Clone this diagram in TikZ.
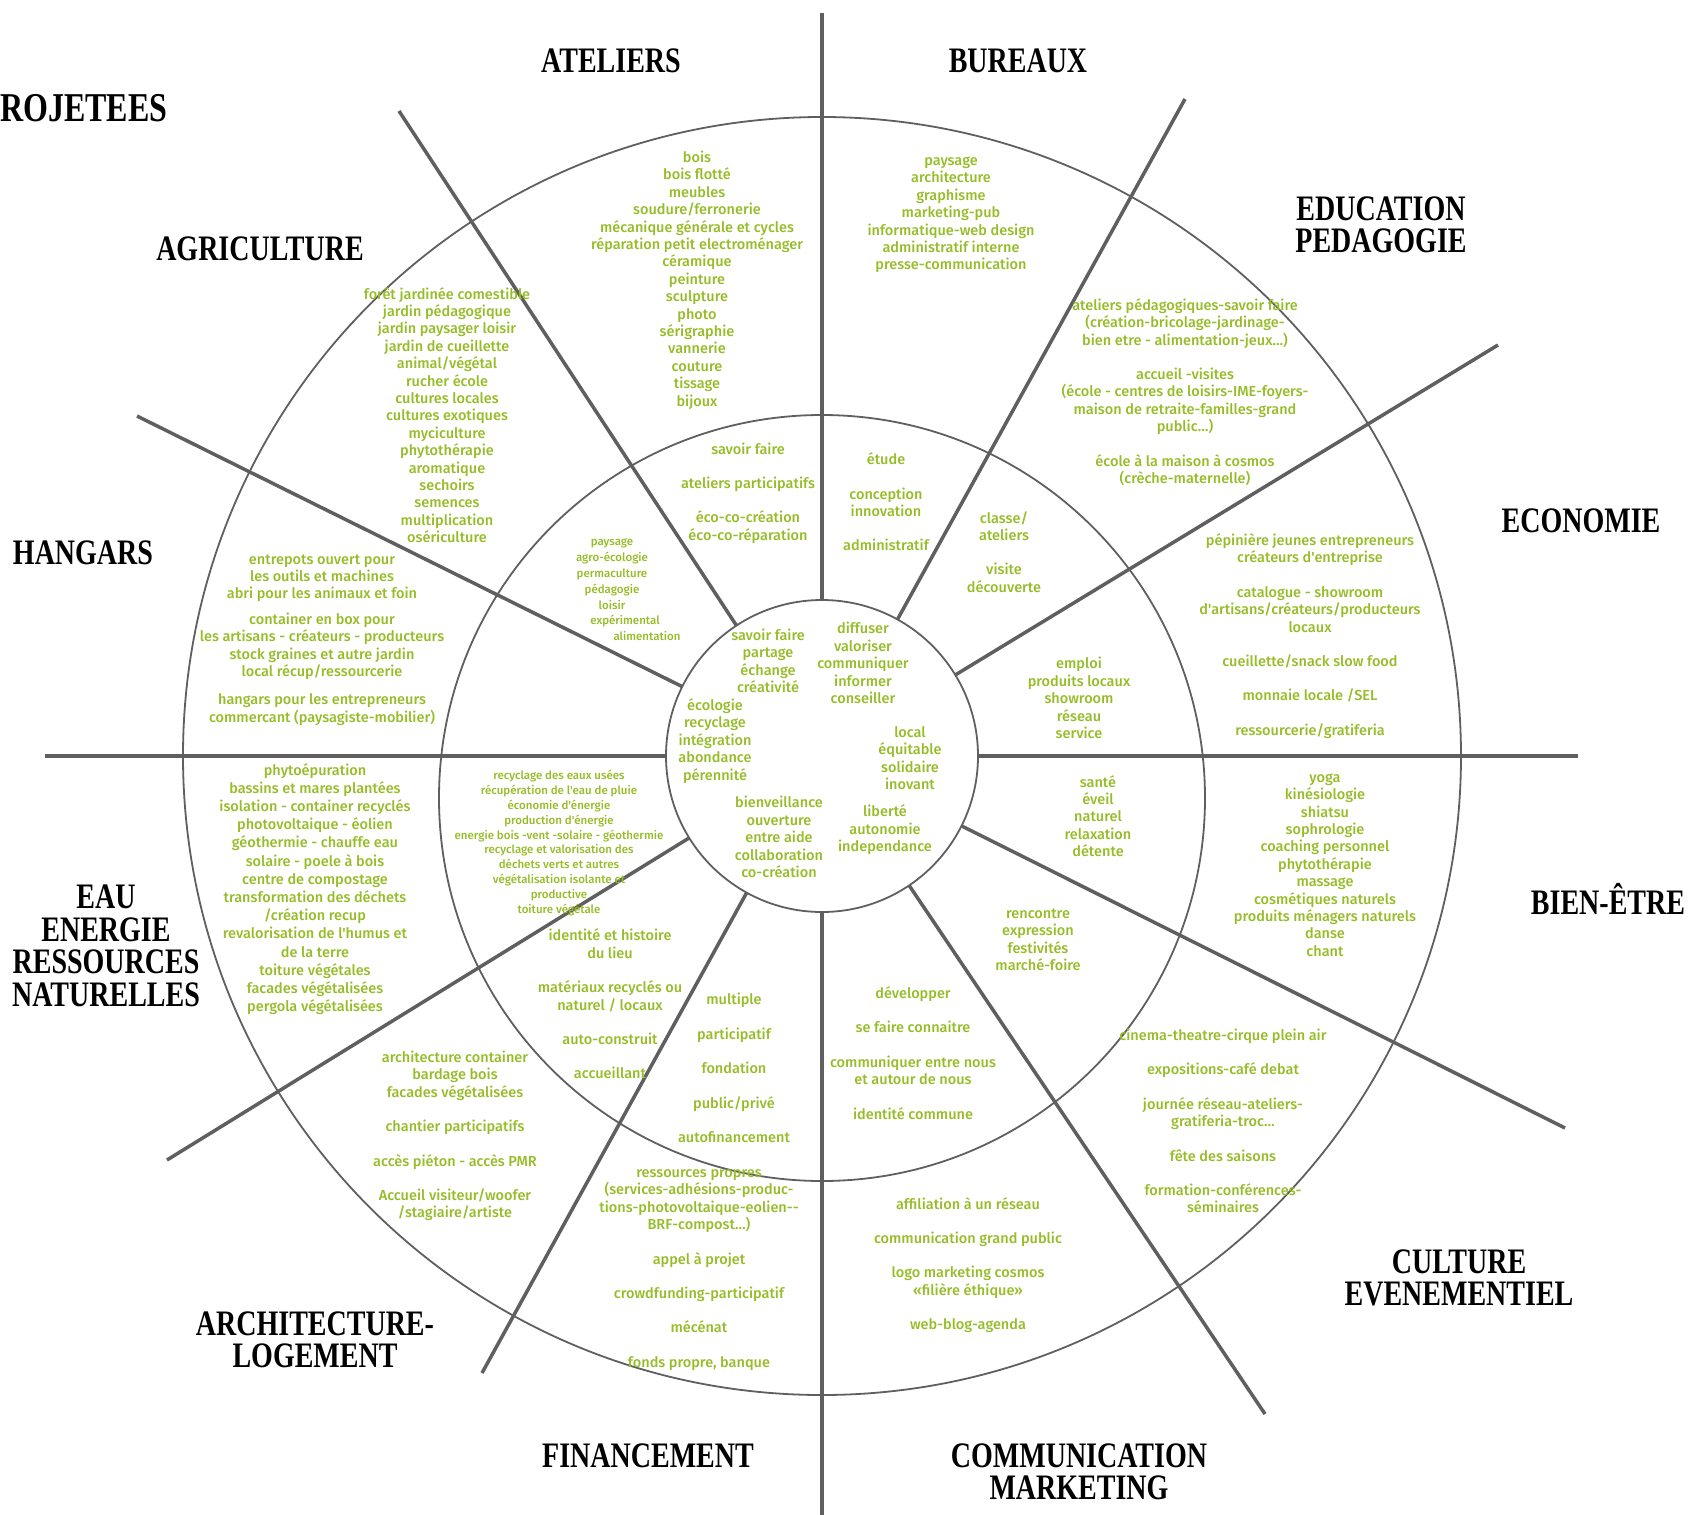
\documentclass[tikz,border=0pt]{standalone}
\usepackage{fontspec}
\usepackage{graphicx}
\setmainfont{Liberation Serif}
\newfontfamily\leaffont{Fira Sans Medium}
\usetikzlibrary{calc}

\definecolor{leaf}{RGB}{150,188,40}
\definecolor{rim}{RGB}{95,95,95}

\newcommand\tallcaps[1]{\scalebox{1}[1.28]{#1}}

\tikzset{
  headtext/.style={font=\fontsize{28}{32.5}\selectfont\bfseries, align=center, inner sep=0pt},
  leaftext/.style={font=\leaffont\fontsize{14.5}{17.4}\selectfont, text=leaf, align=center, inner sep=0pt},
  smalltext/.style={leaftext, font=\leaffont\fontsize{11.5}{14.8}\selectfont},
  spoke/.style={draw=rim, line width=3.5pt},
  ring/.style={draw=rim, line width=1.8pt}
}

\begin{document}
\begin{tikzpicture}[x=1pt,y=-1pt]
\useasboundingbox (0,0) rectangle (1692,1515);

\coordinate (c) at (822,756);
\coordinate (mc) at (822,798);

% circles
\draw[ring] (c) circle (639pt);
\draw[ring] (mc) circle (383pt);
\draw[ring] (c) circle (156pt);

% spokes
\coordinate (n) at (822,13);
\coordinate (s) at (822,1515);
\coordinate (w) at (45,756);
\coordinate (e) at (1578,756);
\coordinate (nw1) at (399,111);
\coordinate (se1) at (1265,1414);
\coordinate (ne1) at (1185,99);
\coordinate (sw1) at (482,1373);
\coordinate (ne2) at (1498,345);
\coordinate (sw2) at (167,1160);
\coordinate (nw2) at (137,416);
\coordinate (se2) at (1565,1128);

\draw[spoke] ($(c)!156pt!(n)$) -- (n);
\draw[spoke] ($(c)!156pt!(s)$) -- (s);
\draw[spoke] ($(c)!156pt!(w)$) -- (w);
\draw[spoke] ($(c)!156pt!(e)$) -- (e);
\draw[spoke] ($(c)!156pt!(nw1)$) -- (nw1);
\draw[spoke] ($(c)!156pt!(se1)$) -- (se1);
\draw[spoke] ($(c)!156pt!(ne1)$) -- (ne1);
\draw[spoke] ($(c)!156pt!(sw1)$) -- (sw1);
\draw[spoke] ($(c)!156pt!(ne2)$) -- (ne2);
\draw[spoke] ($(c)!156pt!(sw2)$) -- (sw2);
\draw[spoke] ($(c)!156pt!(nw2)$) -- (nw2);
\draw[spoke] ($(c)!156pt!(se2)$) -- (se2);

\begin{scope}[every node/.style={headtext}]
  \node[anchor=west, font=\fontsize{32}{36}\selectfont\bfseries] (proj) at (0,108) {\tallcaps{ROJETEES}};
  \node (atl)   at (611,61)    {\tallcaps{ATELIERS}};
  \node (bur)   at (1018,61)   {\tallcaps{BUREAUX}};
  \node (edu)   at (1381,225)  {\tallcaps{EDUCATION}\\\tallcaps{PEDAGOGIE}};
  \node (eco)   at (1581,521)  {\tallcaps{ECONOMIE}};
  \node (bien)  at (1608,899)  {\tallcaps{BIEN-ÊTRE}};
  \node (cult)  at (1459,1278) {\tallcaps{CULTURE}\\\tallcaps{EVENEMENTIEL}};
  \node (comm)  at (1079,1472) {\tallcaps{COMMUNICATION}\\\tallcaps{MARKETING}};
  \node (fin)   at (648,1456)  {\tallcaps{FINANCEMENT}};
  \node (archi) at (315,1340)  {\tallcaps{ARCHITECTURE-}\\\tallcaps{LOGEMENT}};
  \node (eau)   at (106,946)   {\tallcaps{EAU}\\\tallcaps{ENERGIE}\\\tallcaps{RESSOURCES}\\\tallcaps{NATURELLES}};
  \node (hang)  at (83,553)    {\tallcaps{HANGARS}};
  \node (agri)  at (260,249)   {\tallcaps{AGRICULTURE}};
\end{scope}

% outer ring
\node[leaftext] (atlout) at (697,280) {bois\\bois flotté\\meubles\\soudure/ferronerie\\mécanique générale et cycles\\réparation petit electroménager\\céramique\\peinture\\sculpture\\photo\\sérigraphie\\vannerie\\couture\\tissage\\bijoux};
\node[leaftext] (burout) at (951,215) {paysage\\architecture\\graphisme\\marketing-pub\\informatique-web design\\administratif interne\\presse-communication};
\node[leaftext] (eduout) at (1185,392) {ateliers pédagogiques-savoir faire\\(création-bricolage-jardinage-\\bien etre - alimentation-jeux\ldots)\\[17pt]accueil -visites\\(école - centres de loisirs-IME-foyers-\\maison de retraite-familles-grand\\public\ldots)\\[17pt]école à la maison à cosmos\\(crèche-maternelle)};
\node[leaftext] (ecoout) at (1310,636) {pépinière jeunes entrepreneurs\\créateurs d'entreprise\\[17pt]catalogue - showroom\\d'artisans/créateurs/producteurs\\locaux\\[17pt]cueillette/snack slow food\\[17pt]monnaie locale /SEL\\[17pt]ressourcerie/gratiferia};
\node[leaftext] (bienout) at (1325,865) {yoga\\kinésiologie\\shiatsu\\sophrologie\\coaching personnel\\phytothérapie\\massage\\cosmétiques naturels\\produits ménagers naturels\\danse\\chant};
\node[leaftext] (cultout) at (1223,1121) {cinema-theatre-cirque plein air\\[17pt]expositions-café debat\\[17pt]journée réseau-ateliers-\\gratiferia-troc\ldots\\[17pt]fête des saisons\\[17pt]formation-conférences-\\séminaires};
\node[leaftext] (commout) at (968,1265) {affiliation à un réseau\\[17pt]communication grand public\\[17pt]logo marketing cosmos\\«filière éthique»\\[17pt]web-blog-agenda};
\node[leaftext] (finout) at (699,1270) {ressources propres\\(services-adhésions-produc-\\tions-photovoltaique-eolien{-}{-}\\BRF-compost\ldots)\\[17pt]appel à projet\\[17pt]crowdfunding-participatif\\[17pt]mécénat\\[17pt]fonds propre, banque};
\node[leaftext] (archiout) at (455,1136) {architecture container\\bardage bois\\facades végétalisées\\[17pt]chantier participatifs\\[17pt]accès piéton - accès PMR\\[17pt]Accueil visiteur/woofer\\/stagiaire/artiste};
\node[leaftext, font=\leaffont\fontsize{14.5}{18.2}\selectfont] (eauout) at (315,889) {phytoépuration\\bassins et mares plantées\\isolation - container recyclés\\photovoltaique - éolien\\géothermie - chauffe eau\\solaire - poele à bois\\centre de compostage\\transformation des déchets\\/création recup\\revalorisation de l'humus et\\de la terre\\toiture végétales\\facades végétalisées\\pergola végétalisées};
\node[leaftext] (hangout) at (322,640) {entrepots ouvert pour\\les outils et machines\\abri pour les animaux et foin\\[8pt]container en box pour\\les artisans - créateurs - producteurs\\stock graines et autre jardin\\local récup/ressourcerie\\[11pt]hangars pour les entrepreneurs\\commercant (paysagiste-mobilier)};
\node[leaftext] (agriout) at (447,415) {forêt jardinée comestible\\jardin pédagogique\\jardin paysager loisir\\jardin de cueillette\\animal/végétal\\rucher école\\cultures locales\\cultures exotiques\\myciculture\\phytothérapie\\aromatique\\sechoirs\\semences\\multiplication\\osériculture};

% middle ring
\node[leaftext] (atlmid) at (748,493) {savoir faire\\[17pt]ateliers participatifs\\[17pt]éco-co-création\\éco-co-réparation};
\node[leaftext] (burmid) at (886,502) {étude\\[17pt]conception\\innovation\\[17pt]administratif};
\node[leaftext] (edumid) at (1004,552) {classe/\\ateliers\\[17pt]visite\\découverte};
\node[leaftext] (ecomid) at (1079,698) {emploi\\produits locaux\\showroom\\réseau\\service};
\node[leaftext] (bienmid) at (1098,816) {santé\\éveil\\naturel\\relaxation\\détente};
\node[leaftext] (cultmid) at (1038,940) {rencontre\\expression\\festivités\\marché-foire};
\node[leaftext] (commmid) at (913,1053) {développer\\[17pt]se faire connaitre\\[17pt]communiquer entre nous\\et autour de nous\\[17pt]identité commune};
\node[leaftext] (finmid) at (734,1068) {multiple\\[17pt]participatif\\[17pt]fondation\\[17pt]public/privé\\[17pt]autofinancement};
\node[leaftext] (archimid) at (610,1004) {identité et histoire\\du lieu\\[17pt]matériaux recyclés ou\\naturel / locaux\\[17pt]auto-construit\\[17pt]accueillant};
\node[smalltext] (eaumid) at (559,843) {recyclage des eaux usées\\récupération de l'eau de pluie\\économie d'énergie\\production d'énergie\\energie bois -vent -solaire - géothermie\\recyclage et valorisation des\\déchets verts et autres\\végétalisation isolante et\\productive\\toiture végétale};
\node[smalltext, font=\leaffont\fontsize{11.5}{15.8}\selectfont] (agrimid) at (612,590) {paysage\\agro-écologie\\permaculture\\pédagogie\\loisir\\\hspace*{26pt}expérimental\\\hspace*{70pt}alimentation};

% inner circle
\node[leaftext] (inA) at (768,661) {savoir faire\\partage\\échange\\créativité};
\node[leaftext] (inB) at (863,663) {diffuser\\valoriser\\communiquer\\informer\\conseiller};
\node[leaftext] (inC) at (715,741) {écologie\\recyclage\\intégration\\abondance\\pérennité};
\node[leaftext] (inD) at (910,758) {local\\équitable\\solidaire\\inovant};
\node[leaftext] (inE) at (779,837) {bienveillance\\ouverture\\entre aide\\collaboration\\co-création};
\node[leaftext] (inF) at (885,830) {liberté\\autonomie\\independance};

\end{tikzpicture}
\end{document}
